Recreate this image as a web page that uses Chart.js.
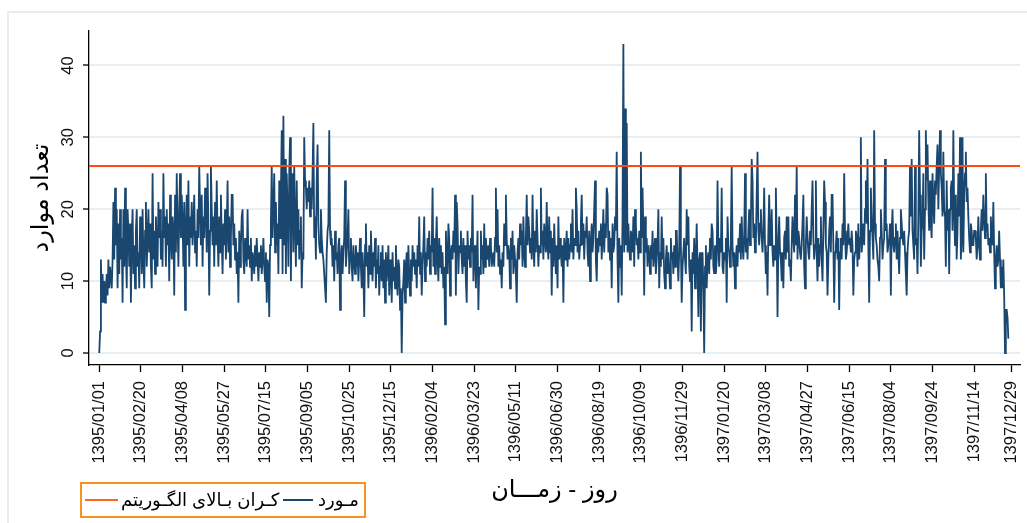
<!DOCTYPE html>
<html>
<head>
<meta charset="utf-8">
<script src="https://cdn.jsdelivr.net/npm/chart.js@4.4.0/dist/chart.umd.min.js"></script>
<style>
  html, body { margin: 0; padding: 0; background: #fff; }
  #wrap { position: relative; width: 1027px; height: 523px; overflow: hidden; }
  #frame { position: absolute; left: 7px; top: 11px; width: 1060px; height: 560px;
           border-left: 2px solid #e6edf1; border-top: 2px solid #e6edf1; box-sizing: border-box; }
  #c { position: absolute; left: 0; top: 0; }
  #legend { position: absolute; left: 80px; top: 482px; width: 286px; height: 36px;
            border: 2px solid #f7931e; box-sizing: border-box;
            font: 18px 'Liberation Sans', 'DejaVu Sans', sans-serif; color: #000; }
  #legend span { position: absolute; white-space: nowrap; }
  #legend .key { top: 15px; height: 0; border-top: 2px solid; }
  #legend .txt { top: 5px; line-height: 22px; }
</style>
</head>
<body>
<div id="wrap">
  <div id="frame"></div>
  <canvas id="c" width="1027" height="523"></canvas>
  <div id="legend">
    <span class="key" style="left:3px;width:33px;border-color:#fb6a1f"></span>
    <span class="txt" id="lg1" style="left:39px"></span>
    <span class="key" style="left:201px;width:30px;border-color:#1a476f"></span>
    <span class="txt" id="lg2" style="left:236px"></span>
  </div>
</div>
<script>
// daily counts, 1395/01/01 onward (day index = position)
const CASES = [
  0,3,13,7,11,7,10,7,9,11,8,13,9,12,12,9,13,21,13,23,
  15,20,9,18,11,20,13,16,7,20,12,23,14,9,20,17,12,18,7,16,
  20,11,15,9,17,20,12,14,9,19,16,11,20,13,9,17,21,12,16,20,
  14,18,12,9,25,13,17,11,19,15,12,21,16,20,13,17,12,25,16,19,
  12,20,15,18,10,22,16,13,19,17,8,22,14,25,18,12,20,25,16,22,
  18,12,21,6,17,22,15,24,12,19,16,21,15,18,22,14,17,12,20,16,
  26,20,15,22,12,19,16,23,20,14,25,18,8,17,26,20,15,19,12,21,
  15,24,16,12,19,14,22,16,11,18,15,20,13,17,24,14,19,12,16,22,
  22,15,18,13,16,11,14,7,17,12,15,19,20,13,11,16,14,12,20,13,
  15,12,16,10,14,13,11,15,12,16,13,10,14,12,15,11,13,16,12,10,
  14,7,13,12,5,15,18,26,16,20,25,14,21,15,18,11,24,16,22,31,
  11,33,15,27,11,25,20,12,25,30,10,22,25,14,26,18,12,24,15,20,
  13,17,19,9,14,13,30,24,23,20,23,21,24,19,23,20,25,32,16,19,
  13,24,29,18,15,14,20,16,14,13,11,9,7,14,17,18,31,17,15,16,
  12,15,10,17,13,14,11,15,16,6,13,15,11,14,16,24,12,14,16,20,
  11,14,16,12,10,15,13,11,15,12,14,10,13,16,12,9,14,11,5,15,
  18,12,14,9,15,11,17,13,10,14,12,16,9,13,11,15,8,12,14,10,
  15,9,13,7,14,10,12,15,8,13,11,7,14,10,12,9,15,11,8,13,
  12,6,9,0,8,10,13,7,12,14,9,15,11,8,13,10,15,12,14,11,
  13,9,15,12,19,11,14,8,12,15,19,10,14,12,16,13,17,11,15,14,
  23,12,16,11,15,19,13,10,16,12,15,11,14,9,12,4,17,13,11,18,
  16,8,14,15,13,17,14,22,8,21,18,11,15,14,17,13,11,16,12,15,
  10,7,17,13,15,12,16,14,22,10,14,15,9,13,17,6,12,11,17,13,
  15,11,18,12,16,14,13,15,12,16,15,12,13,14,12,16,23,14,20,12,
  15,11,13,9,14,12,18,15,22,16,13,15,14,9,16,13,17,11,15,13,
  11,7,14,16,13,18,15,17,12,19,14,12,16,22,15,19,17,14,16,13,
  22,15,12,17,14,20,16,12,15,14,23,15,17,13,18,16,14,21,15,13,
  19,14,17,8,16,12,18,14,11,15,9,19,13,16,14,12,15,7,16,13,
  14,17,12,16,13,15,18,14,20,13,16,15,23,20,14,17,13,15,18,22,
  15,18,13,17,16,19,14,12,17,10,15,18,14,16,20,24,13,10,16,14,
  17,15,18,13,16,20,14,18,16,23,22,14,17,13,16,9,18,14,15,19,
  17,28,13,7,16,12,15,8,19,43,14,34,15,32,14,18,15,13,17,16,
  14,19,12,20,18,15,16,13,17,14,28,16,23,17,8,19,14,16,12,15,
  14,11,15,13,17,12,14,16,11,13,15,20,9,14,12,19,13,16,11,9,
  13,15,11,14,12,9,16,13,14,11,15,12,17,17,13,10,14,26,15,7,
  12,14,16,13,11,20,15,19,12,10,13,3,14,11,16,9,13,18,12,5,
  13,14,3,12,14,9,0,12,15,9,13,14,11,16,13,18,17,12,11,15,
  11,13,24,15,12,16,14,23,12,11,14,13,16,7,19,15,14,12,16,26,
  15,12,14,9,13,15,12,16,14,18,13,19,15,13,16,25,14,16,13,17,
  20,15,18,27,24,16,18,14,15,22,28,17,15,18,20,16,14,17,23,15,
  11,14,8,17,22,15,16,20,14,12,15,13,23,16,5,15,19,14,13,10,
  14,9,16,17,13,19,14,19,12,13,10,15,19,16,14,22,15,26,13,17,
  16,14,13,15,18,22,12,9,15,19,16,14,13,17,15,20,24,16,13,15,
  24,14,10,16,12,15,19,13,10,17,24,21,15,14,8,13,17,19,14,22,
  22,15,7,14,15,17,13,16,6,14,16,13,18,15,25,17,13,14,16,18,
  15,16,14,17,15,8,13,14,17,16,12,18,13,16,30,14,16,18,15,20,
  24,18,27,15,7,17,23,19,16,13,31,18,16,15,13,12,10,16,20,17,
  13,15,16,27,17,18,14,15,16,18,8,17,20,15,14,16,18,13,17,14,
  11,16,20,18,16,15,17,14,11,8,14,16,17,26,19,27,17,15,13,26,
  15,16,11,19,31,22,12,17,18,25,13,20,31,24,29,21,17,24,18,16,
  25,21,18,24,22,26,29,20,26,31,25,23,19,28,20,19,12,24,17,20,
  11,20,23,24,17,31,20,15,22,13,17,25,19,30,13,16,30,14,22,25,
  28,21,23,19,16,14,18,17,15,15,17,17,16,13,15,19,15,13,17,20,
  17,22,19,16,25,17,18,15,16,14,19,16,15,21,14,9,13,15,12,13,
  17,13,9,12,9,13,8,0,6,6,5,2
];

const UPPER_BOUND = 26;

const TICK_DAYS = [0, 50, 100, 150, 200, 250, 300, 350, 400, 450, 500, 550,
                   600, 650, 700, 750, 800, 850, 900, 950, 1000, 1050, 1095];
const TICK_LABELS = [
  '1395/01/01', '1395/02/20', '1395/04/08', '1395/05/27', '1395/07/15', '1395/09/05',
  '1395/10/25', '1395/12/15', '1396/02/04', '1396/03/23', '1396/05/11', '1396/06/30',
  '1396/08/19', '1396/10/09', '1396/11/29', '1397/01/20', '1397/03/08', '1397/04/27',
  '1397/06/15', '1397/08/04', '1397/09/24', '1397/11/14', '1397/12/29'
];
const Y_TICKS = [0, 10, 20, 30, 40];

const LABEL_CASES = 'مـورد';
const LABEL_BOUND = 'کـران بـالای الگـوریتم';
const X_TITLE = 'روز - زمـــان';
const Y_TITLE = 'تعداد موارد';

const X_MIN = -12.3, X_MAX = 1105;
const Y_MIN = -1.67, Y_MAX = 44.8;
const FONT = "'Liberation Sans', 'DejaVu Sans', sans-serif";

document.getElementById('lg1').textContent = LABEL_BOUND;
document.getElementById('lg2').textContent = LABEL_CASES;

// y labels are vertical in the original, draw them rotated
const yLabels = {
  id: 'yLabels',
  afterDraw(chart) {
    const ctx = chart.ctx, sc = chart.scales.y;
    ctx.save();
    ctx.font = '16.5px ' + FONT;
    ctx.fillStyle = '#111';
    ctx.textAlign = 'center';
    ctx.textBaseline = 'middle';
    Y_TICKS.forEach(v => {
      ctx.save();
      ctx.translate(68, sc.getPixelForValue(v));
      ctx.rotate(-Math.PI / 2);
      ctx.fillText(String(v), 0, 0);
      ctx.restore();
    });
    ctx.restore();
  }
};

new Chart(document.getElementById('c'), {
  type: 'line',
  data: {
    datasets: [
      {
        label: LABEL_BOUND,
        data: [{ x: X_MIN, y: UPPER_BOUND }, { x: X_MAX, y: UPPER_BOUND }],
        borderColor: '#ff4a14', borderWidth: 2, pointRadius: 0, order: 0,
      },
      {
        label: LABEL_CASES,
        data: CASES.map((v, i) => ({ x: i, y: v })),
        borderColor: '#1a476f', borderWidth: 1.8, pointRadius: 0, tension: 0, order: 1,
      },
    ],
  },
  options: {
    responsive: false,
    animation: false,
    layout: { padding: { top: 31, right: 7, left: 0, bottom: 0 } },
    plugins: { legend: { display: false }, tooltip: { enabled: false } },
    scales: {
      x: {
        type: 'linear', min: X_MIN, max: X_MAX,
        afterBuildTicks: s => { s.ticks = TICK_DAYS.map(v => ({ value: v })); },
        afterFit: s => { s.height = 158; s.paddingLeft = 0; s.paddingRight = 0; },
        grid: { drawOnChartArea: false, tickLength: 7, tickColor: '#000', tickWidth: 1.3 },
        border: { color: '#000', width: 1.3 },
        ticks: {
          autoSkip: false, minRotation: 90, maxRotation: 90, padding: 9, color: '#111',
          font: { size: 16.5, family: FONT },
          callback: v => TICK_LABELS[TICK_DAYS.indexOf(v)],
        },
        title: {
          display: true, text: X_TITLE, color: '#000',
          font: { size: 24, family: FONT }, padding: { top: 0, bottom: 18 },
        },
      },
      y: {
        min: Y_MIN, max: Y_MAX,
        afterBuildTicks: s => { s.ticks = Y_TICKS.map(v => ({ value: v })); },
        afterFit: s => { s.width = 89; },
        grid: { color: '#e8eff2', lineWidth: 2, tickLength: 6, tickColor: '#000', tickWidth: 1.3 },
        border: { color: '#000', width: 1.3 },
        ticks: { display: false },
        title: {
          display: true, text: Y_TITLE, color: '#000',
          font: { size: 24, family: FONT }, padding: { top: 27, bottom: 0 },
        },
      },
    },
  },
  plugins: [yLabels],
});
</script>
</body>
</html>
